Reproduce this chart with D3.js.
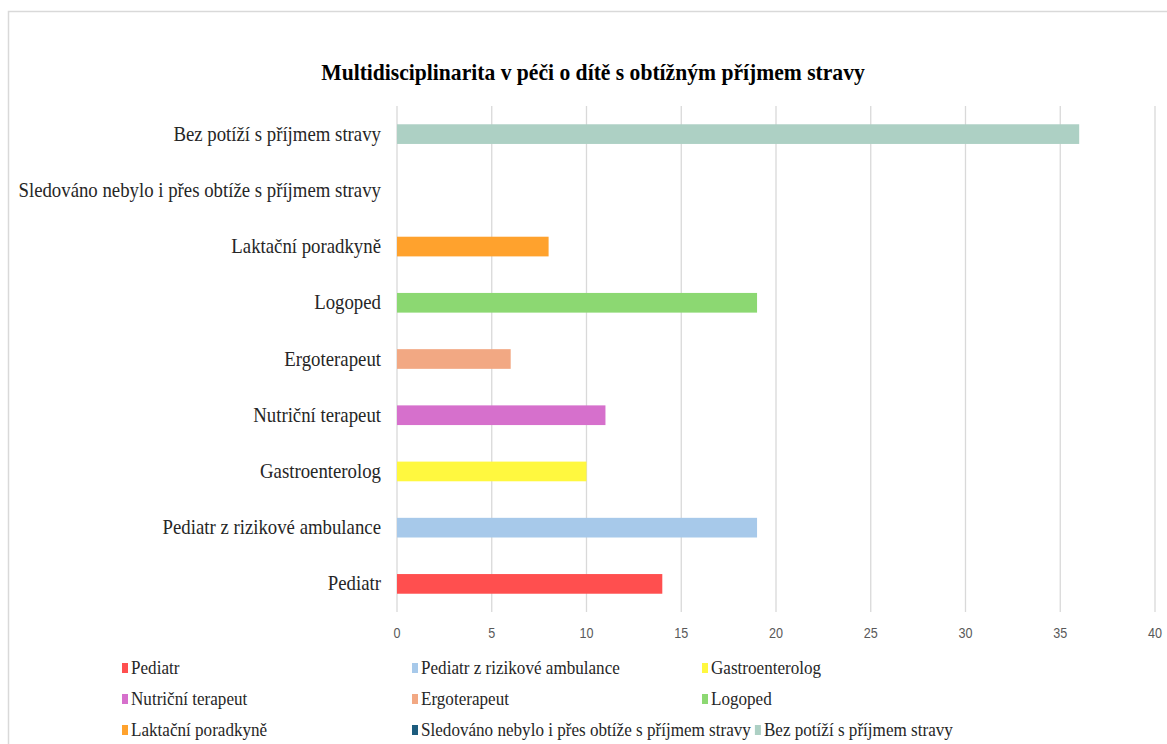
<!DOCTYPE html>
<html>
<head>
<meta charset="utf-8">
<script src="https://cdn.jsdelivr.net/npm/d3@7"></script>
<style>
  body { margin: 0; background: #fff; }
  svg { display: block; }
</style>
</head>
<body>
<svg id="canvas" width="1167" height="744"></svg>
<script>
const categories = [
  "Pediatr",
  "Pediatr z rizikové ambulance",
  "Gastroenterolog",
  "Nutriční terapeut",
  "Ergoterapeut",
  "Logoped",
  "Laktační poradkyně",
  "Sledováno nebylo i přes obtíže s příjmem stravy",
  "Bez potíží s příjmem stravy"
]
const values = [14, 19, 10, 11, 6, 19, 8, 0, 36]
const colors = ["#ff4f4f", "#a7c9ea", "#fff83f", "#d670cc", "#f2a883", "#8cd872", "#ffa22d", "#1c5c7e", "#add0c4"]
const xTicks = [0, 5, 10, 15, 20, 25, 30, 35, 40]
const title = "Multidisciplinarita v péči o dítě s obtížným příjmem stravy"

const serif = "'Liberation Serif', 'Times New Roman', 'DejaVu Serif', serif"

const svg = d3.select("#canvas")

// chart frame
svg.append("path")
  .attr("d", "M8.5,760V11.5H1180")
  .attr("fill", "none")
  .attr("stroke", "#d9d9d9")
  .attr("stroke-width", 1.5)

const x = d3.scaleLinear().domain([0, 40]).range([397, 1155])
const y = d3.scaleBand().domain(categories.slice().reverse()).range([106, 612]).paddingInner(0.65).paddingOuter(0.325)

// title
svg.append("text")
  .attr("transform", "translate(593,80) scale(0.9,1)")
  .attr("text-anchor", "middle")
  .attr("font-family", serif)
  .attr("font-weight", "bold")
  .attr("font-size", 24)
  .attr("fill", "#000")
  .text(title)

// gridlines
svg.append("g")
  .selectAll("line")
  .data(xTicks)
  .enter().append("line")
  .attr("x1", d => x(d)).attr("x2", d => x(d))
  .attr("y1", 106).attr("y2", 612)
  .attr("stroke", "#d9d9d9")
  .attr("stroke-width", 1.3)

// tick labels
svg.append("g")
  .selectAll("text")
  .data(xTicks)
  .enter().append("text")
  .attr("transform", d => `translate(${x(d)},638) scale(0.9,1)`)
  .attr("text-anchor", "middle")
  .attr("font-family", "'Liberation Sans', Arial, sans-serif")
  .attr("font-size", 14)
  .attr("fill", "#595959")
  .text(d => d)

// bars
svg.append("g")
  .selectAll("rect")
  .data(categories)
  .enter().append("rect")
  .attr("x", x(0))
  .attr("y", d => y(d))
  .attr("height", y.bandwidth())
  .attr("width", (d, i) => x(values[i]) - x(0))
  .attr("fill", (d, i) => colors[i])

// category labels
svg.append("g")
  .selectAll("text")
  .data(categories)
  .enter().append("text")
  .attr("transform", d => `translate(381,${y(d) + y.bandwidth() / 2 + 6.5}) scale(0.94,1)`)
  .attr("text-anchor", "end")
  .attr("font-family", serif)
  .attr("font-size", 20)
  .attr("fill", "#262626")
  .text(d => d)

// legend (3 columns, an item slides right if the previous one is too long)
const legendCols = [122, 412, 702]
const legend = svg.append("g")
  .selectAll("g")
  .data(categories)
  .enter().append("g")

legend.append("rect")
  .attr("x", 0).attr("y", -5)
  .attr("width", 6).attr("height", 10)
  .attr("fill", (d, i) => colors[i])

legend.append("text")
  .attr("transform", "translate(9,5.5) scale(0.95,1)")
  .attr("font-family", serif)
  .attr("font-size", 18)
  .attr("fill", "#262626")
  .text(d => d)

let prevEnd = 0
legend.each(function(d, i) {
  const col = i % 3
  let lx = legendCols[col]
  if (col > 0 && prevEnd + 4 > lx) lx = prevEnd + 4
  const w = d3.select(this).select("text").node().getComputedTextLength() * 0.95
  prevEnd = lx + 9 + w
  d3.select(this).attr("transform", `translate(${lx},${668 + Math.floor(i / 3) * 31})`)
})
</script>
</body>
</html>
